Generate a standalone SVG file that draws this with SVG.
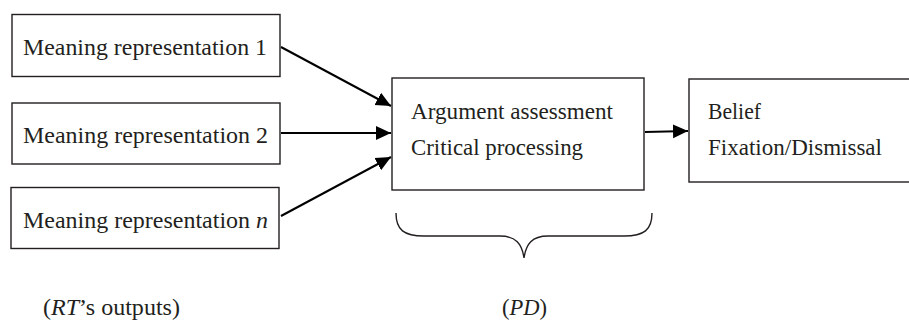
<svg xmlns="http://www.w3.org/2000/svg" width="909" height="323" viewBox="0 0 909 323">
  <style>
    .box { fill: #ffffff; stroke: #231f20; stroke-width: 1.4; }
    .label { font-family: "Liberation Serif", "Times New Roman", serif; font-size: 23.5px; fill: #231f20; }
    .conn { stroke: #000000; stroke-width: 2; fill: none; }
    .brace { stroke: #231f20; stroke-width: 1.4; fill: none; }
  </style>
  <defs>
    <marker id="arrow" markerUnits="userSpaceOnUse" markerWidth="16" markerHeight="16" viewBox="0 0 16 16" refX="15" refY="8" orient="auto">
      <path d="M0,1 L15,8 L0,15 Z" fill="#000000"/>
    </marker>
  </defs>

  <rect width="909" height="323" fill="#ffffff"/>

  <!-- connectors -->
  <g id="connectors">
    <line class="conn" x1="281" y1="47" x2="391" y2="106" marker-end="url(#arrow)"/>
    <line class="conn" x1="281" y1="133" x2="391" y2="133" marker-end="url(#arrow)"/>
    <line class="conn" x1="281" y1="216" x2="391" y2="157" marker-end="url(#arrow)"/>
    <line class="conn" x1="645" y1="132" x2="688" y2="131" marker-end="url(#arrow)"/>
  </g>

  <!-- input representations -->
  <g id="meaning1">
    <rect class="box" x="12" y="14.5" width="268" height="62"/>
    <text class="label" x="23" y="55" textLength="244" lengthAdjust="spacingAndGlyphs">Meaning representation 1</text>
  </g>
  <g id="meaning2">
    <rect class="box" x="12" y="103" width="268" height="61"/>
    <text class="label" x="23" y="142.5" textLength="245" lengthAdjust="spacingAndGlyphs">Meaning representation 2</text>
  </g>
  <g id="meaningN">
    <rect class="box" x="11" y="187.5" width="268" height="61"/>
    <text class="label" x="23" y="227.5" textLength="245" lengthAdjust="spacingAndGlyphs">Meaning representation <tspan font-style="italic">n</tspan></text>
  </g>

  <!-- processing stage -->
  <g id="assessment">
    <rect class="box" x="392" y="78" width="252" height="112"/>
    <text class="label" x="411" y="119" textLength="202" lengthAdjust="spacingAndGlyphs">Argument assessment</text>
    <text class="label" x="411" y="155" textLength="172" lengthAdjust="spacingAndGlyphs">Critical processing</text>
  </g>

  <!-- outcome -->
  <g id="belief">
    <rect class="box" x="689" y="79" width="230" height="103"/>
    <text class="label" x="708" y="119" textLength="53" lengthAdjust="spacingAndGlyphs">Belief</text>
    <text class="label" x="708" y="155" textLength="174" lengthAdjust="spacingAndGlyphs">Fixation/Dismissal</text>
  </g>

  <!-- grouping brace under the processing stage -->
  <g id="pd-brace">
    <path class="brace" d="M396,213 C396,230 404,236 424,236 L500,236 C516,236 522,244 524,258 C526,244 532,236 548,236 L624,236 C644,236 652,230 652,213"/>
  </g>

  <!-- captions -->
  <g id="captions">
    <text class="label" x="43" y="315" textLength="137" lengthAdjust="spacingAndGlyphs">(<tspan font-style="italic">RT</tspan>’s outputs)</text>
    <text class="label" x="502" y="315" textLength="45" lengthAdjust="spacingAndGlyphs">(<tspan font-style="italic">PD</tspan>)</text>
  </g>
</svg>
